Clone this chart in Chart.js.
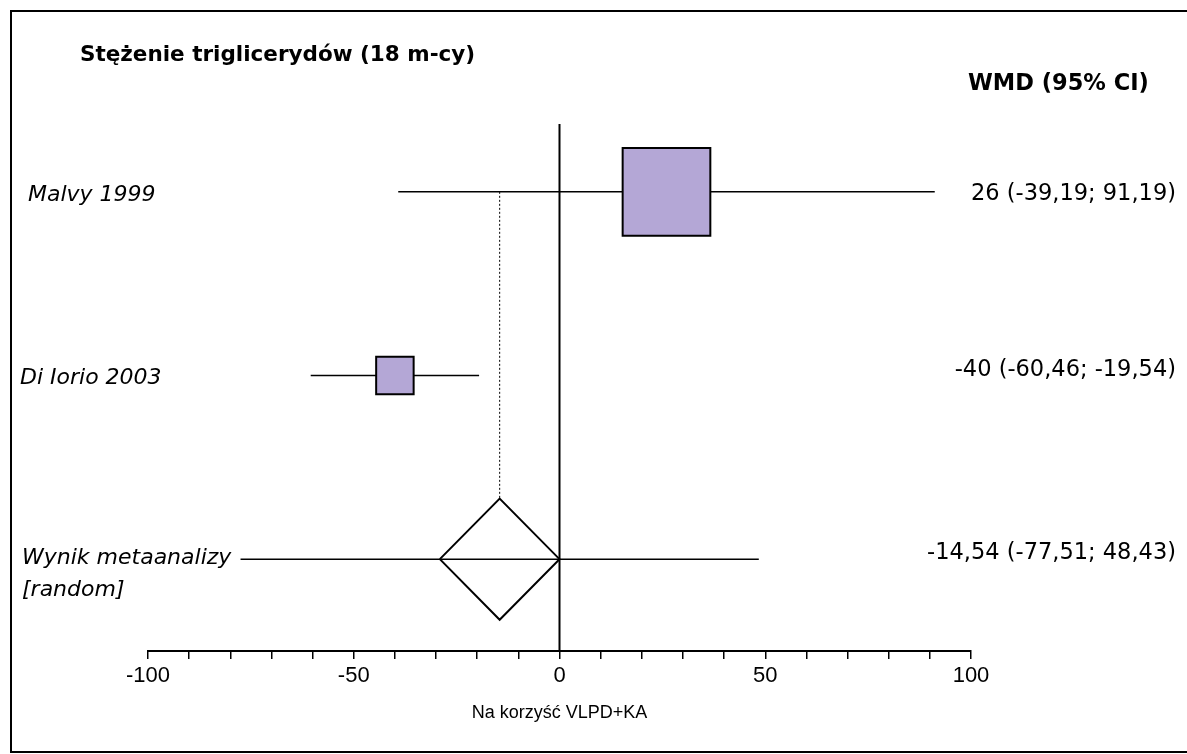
<!DOCTYPE html>
<html>
<head>
<meta charset="utf-8">
<script src="https://cdn.jsdelivr.net/npm/chart.js@4.4.0/dist/chart.umd.min.js"></script>
<style>
  html, body { margin: 0; padding: 0; background: #fff; }
  #wrap { position: relative; width: 1187px; height: 754px; }
  canvas { display: block; }
</style>
</head>
<body>
<div id="wrap"><canvas id="forest" width="1187" height="754"></canvas></div>
<script>
// study rows (top to bottom)
const studyNames = ['Malvy 1999', 'Di Iorio 2003'];
const studyMeans = [26, -40];
const studyLower = [-39.19, -60.46];
const studyUpper = [91.19, -19.54];
const studyRows = [3, 2];

// pooled result
const pooledNames = ['Wynik metaanalizy', '[random]'];
const pooledMean = [-14.54];
const pooledLower = [-77.51];
const pooledUpper = [48.43];
const pooledRow = [1];

const xTickLabels = [-100, -50, 0, 50, 100];

const chartTitle = 'Stężenie triglicerydów (18 m-cy)';
const columnHeader = 'WMD (95% CI)';
const axisTitle = 'Na korzyść VLPD+KA';

// look
const BOX_FILL = '#b4a7d6';
const DIAMOND_HALF_W = 14.54;   // x units
const DIAMOND_HALF_H = 0.33;    // y units
const ZERO_TOP = 3.37;

const fmt = v => String(v).replace('.', ',');

function seg(x1, y1, x2, y2, extra) {
  return Object.assign({
    data: [{ x: x1, y: y1 }, { x: x2, y: y2 }],
    showLine: true,
    borderColor: '#000',
    borderWidth: 1.5,
    pointRadius: 0,
    fill: false
  }, extra || {});
}

const datasets = [];

// weight boxes first so they sit above the CI lines
datasets.push({
  data: studyMeans.map((m, i) => ({ x: m, y: studyRows[i] })),
  pointStyle: 'rect',
  pointRadius: [62, 26.5],
  backgroundColor: BOX_FILL,
  borderColor: '#000',
  borderWidth: 2,
  showLine: false
});

studyMeans.forEach((m, i) => {
  datasets.push(seg(studyLower[i], studyRows[i], studyUpper[i], studyRows[i]));
});

// pooled diamond
const pm = pooledMean[0], pr = pooledRow[0];
datasets.push({
  data: [
    { x: pm - DIAMOND_HALF_W, y: pr },
    { x: pm, y: pr + DIAMOND_HALF_H },
    { x: pm + DIAMOND_HALF_W, y: pr },
    { x: pm, y: pr - DIAMOND_HALF_H },
    { x: pm - DIAMOND_HALF_W, y: pr }
  ],
  showLine: true,
  borderColor: '#000',
  borderWidth: 2,
  pointRadius: 0,
  fill: false,
  tension: 0
});
datasets.push(seg(pooledLower[0], pr, pooledUpper[0], pr));

// line of no effect
datasets.push(seg(0, ZERO_TOP, 0, 0.5, { borderWidth: 2 }));

// dotted guide from the pooled estimate
datasets.push(seg(pm, studyRows[0], pm, pr + DIAMOND_HALF_H, { borderWidth: 1, borderDash: [2, 2] }));

const textPlugin = {
  id: 'forestText',
  afterDraw(chart) {
    const ctx = chart.ctx;
    const y = chart.scales.y;
    ctx.save();

    // frame
    ctx.strokeStyle = '#000';
    ctx.lineWidth = 2;
    ctx.beginPath();
    ctx.moveTo(1187, 11);
    ctx.lineTo(11, 11);
    ctx.lineTo(11, 752);
    ctx.lineTo(1187, 752);
    ctx.stroke();

    ctx.fillStyle = '#000';
    ctx.textBaseline = 'middle';

    ctx.font = 'bold 21.5px "DejaVu Sans"';
    ctx.textAlign = 'left';
    ctx.fillText(chartTitle, 80, 55);
    ctx.font = 'bold 22.5px "DejaVu Sans"';
    ctx.fillText(columnHeader, 968, 84);

    ctx.font = 'italic 22px "DejaVu Sans"';
    ctx.fillText(studyNames[0], 28, y.getPixelForValue(studyRows[0]) + 3);
    ctx.fillText(studyNames[1], 20, y.getPixelForValue(studyRows[1]) + 3);
    ctx.fillText(pooledNames[0], 22, y.getPixelForValue(pr) - 1);
    ctx.fillText(pooledNames[1], 22, y.getPixelForValue(pr) + 31);

    ctx.font = '22.5px "DejaVu Sans"';
    ctx.textAlign = 'right';
    studyNames.forEach((n, i) => {
      const s = `${fmt(studyMeans[i])} (${fmt(studyLower[i])}; ${fmt(studyUpper[i])})`;
      ctx.fillText(s, 1176, y.getPixelForValue(studyRows[i]) + (i === 0 ? 2 : -5));
    });
    ctx.fillText(`${fmt(pm)} (${fmt(pooledLower[0])}; ${fmt(pooledUpper[0])})`, 1176, y.getPixelForValue(pr) - 6);

    ctx.restore();
  }
};

new Chart(document.getElementById('forest'), {
  type: 'scatter',
  data: { datasets },
  options: {
    responsive: false,
    animation: false,
    events: [],
    layout: { padding: { left: 148, right: 216, top: 100, bottom: 0 } },
    plugins: { legend: { display: false }, tooltip: { enabled: false } },
    scales: {
      x: {
        type: 'linear',
        min: -100,
        max: 100,
        afterFit(scale) { scale.height = 103; },
        afterBuildTicks(scale) {
          const t = [];
          for (let v = -100; v <= 100; v += 10) t.push({ value: v });
          scale.ticks = t;
        },
        ticks: {
          autoSkip: false,
          maxRotation: 0,
          color: '#000',
          padding: 4,
          font: { family: 'Liberation Sans', size: 22 },
          callback: v => (xTickLabels.includes(v) ? String(v) : '')
        },
        grid: {
          drawOnChartArea: false,
          drawTicks: true,
          tickLength: 8,
          color: '#000',
          lineWidth: 1.5
        },
        border: { display: true, color: '#000', width: 2 },
        title: {
          display: true,
          text: axisTitle,
          color: '#000',
          font: { family: 'Liberation Sans', size: 18 },
          padding: { top: 0, bottom: 30 }
        }
      },
      y: {
        type: 'linear',
        display: false,
        min: 0.5,
        max: 3.5
      }
    }
  },
  plugins: [textPlugin]
});
</script>
</body>
</html>
